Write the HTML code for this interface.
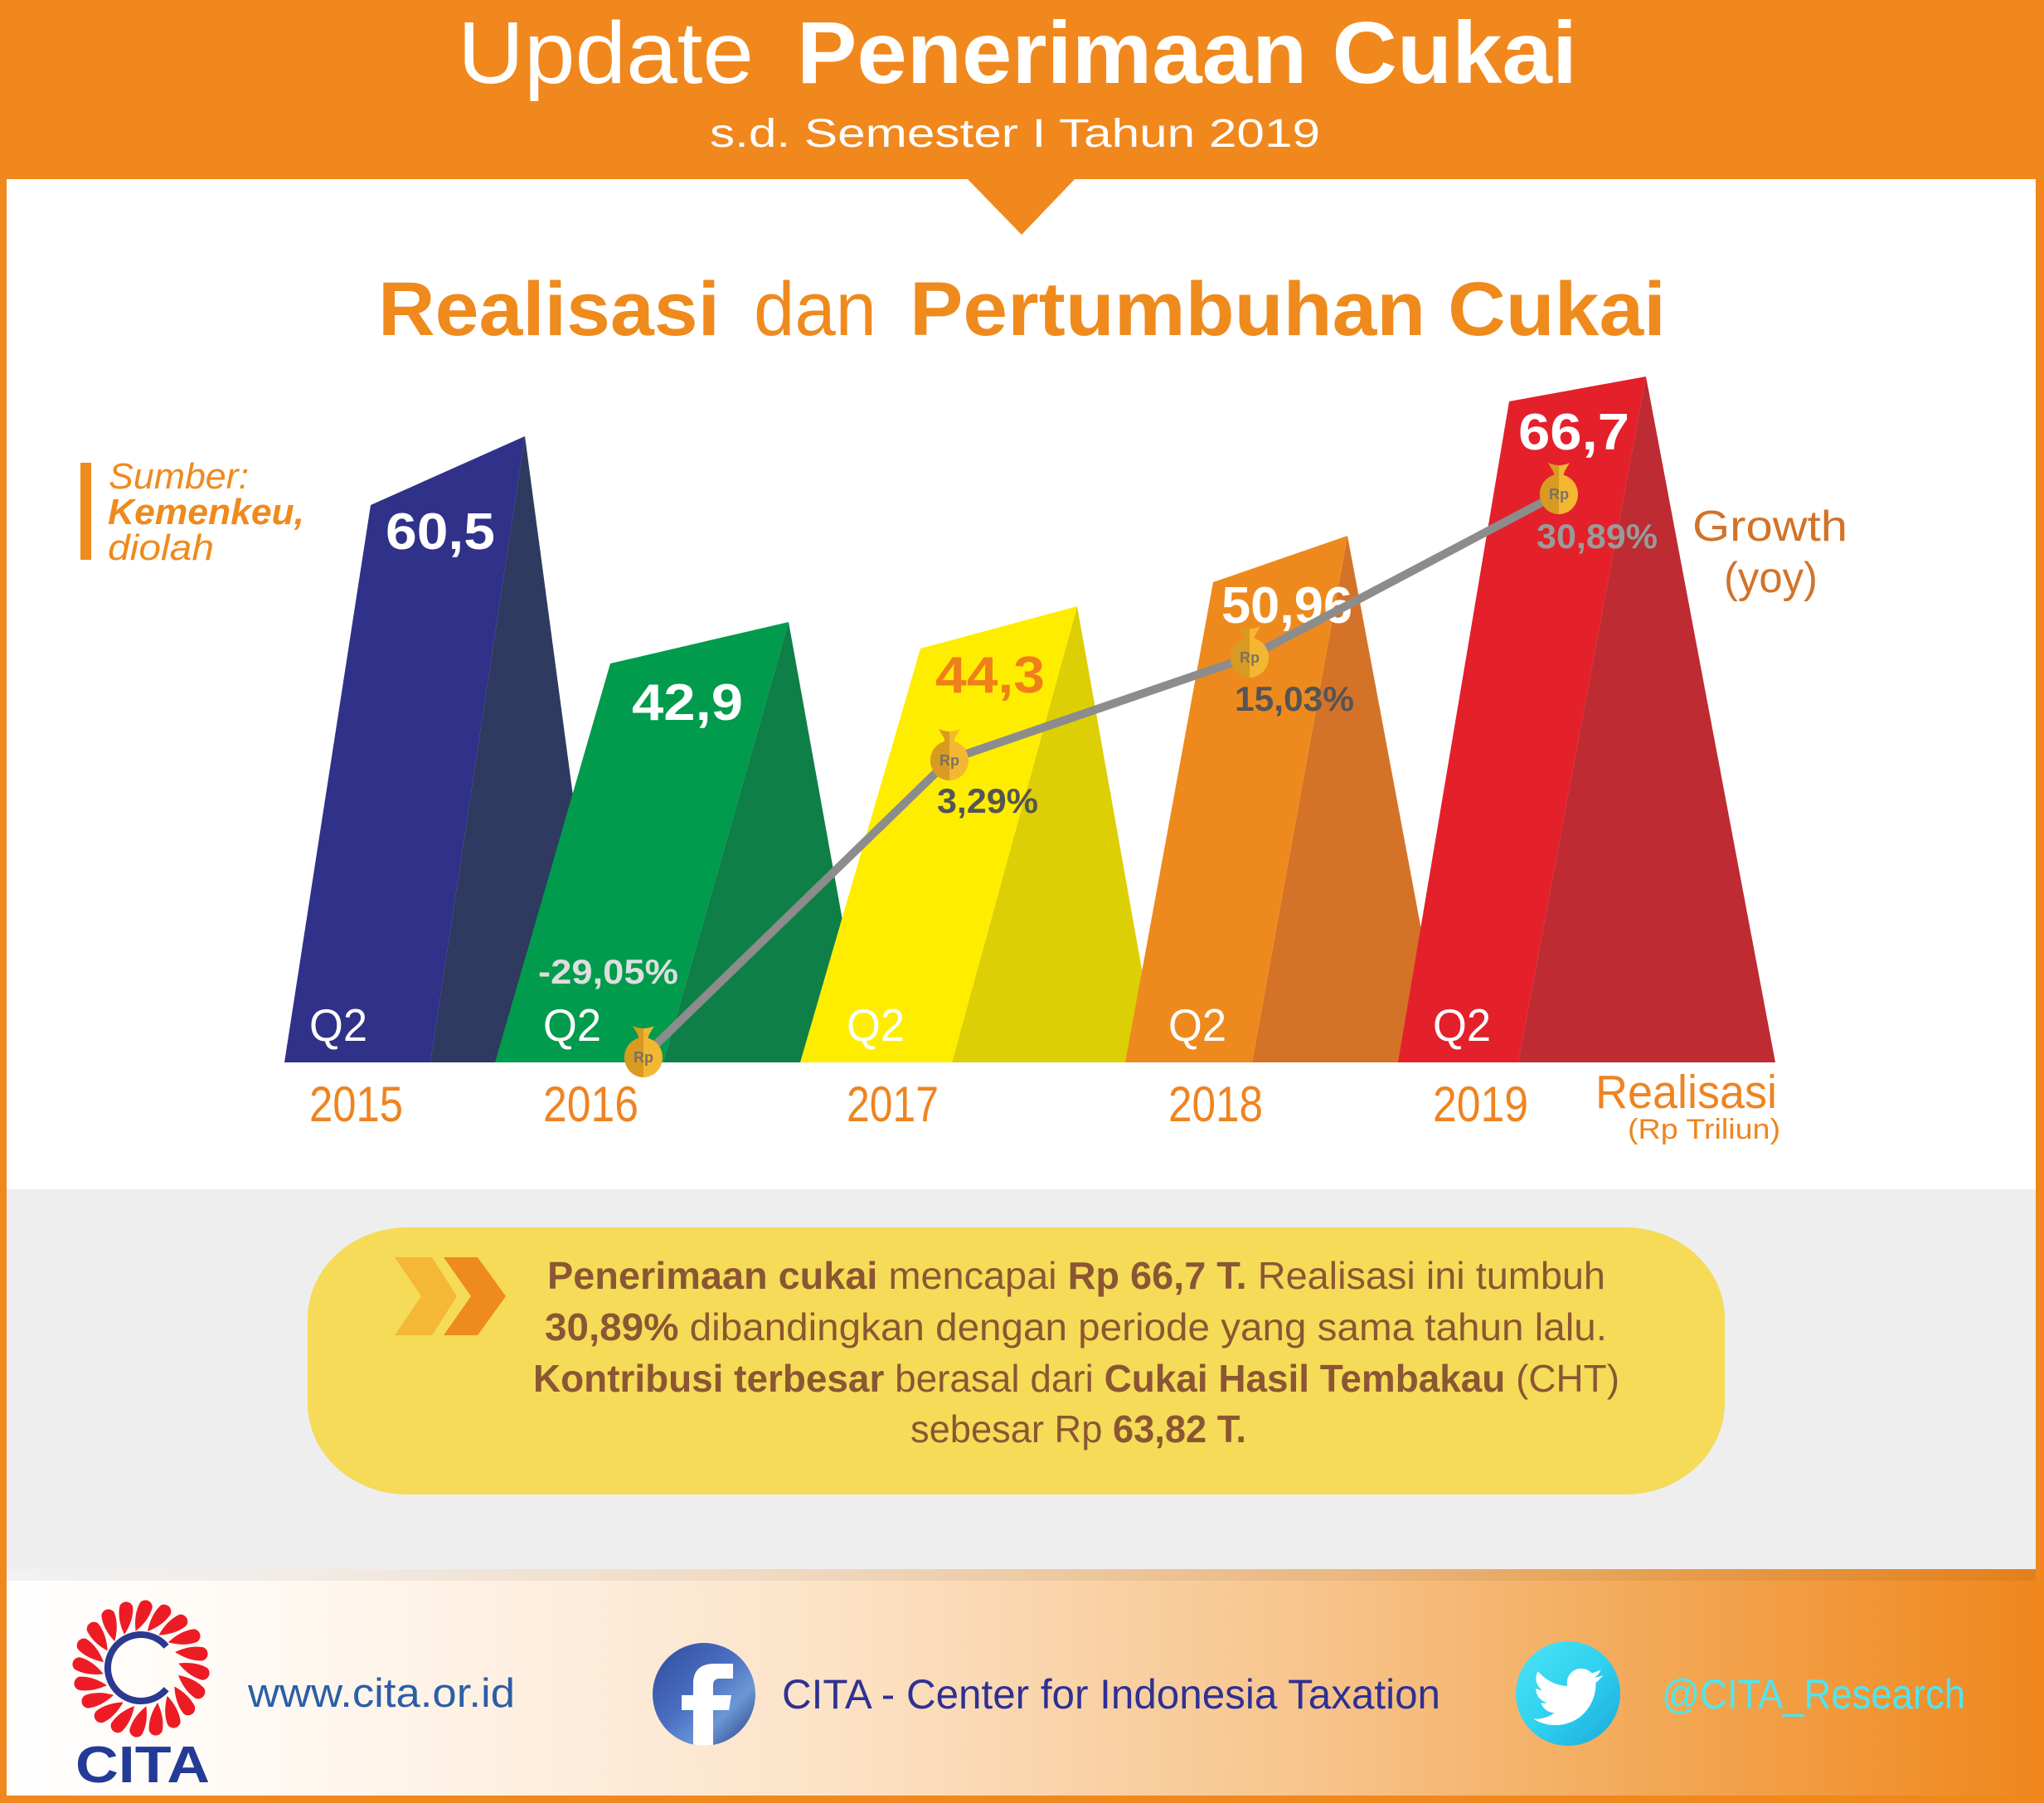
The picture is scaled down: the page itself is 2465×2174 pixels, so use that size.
<!DOCTYPE html>
<html><head><meta charset="utf-8"><style>html,body{margin:0;padding:0;background:#fff}svg{display:block}</style></head>
<body>
<svg xmlns="http://www.w3.org/2000/svg" width="2465" height="2174" viewBox="0 0 2465 2174" font-family="'Liberation Sans', sans-serif">
<defs>
 <linearGradient id="foot" x1="0" y1="0" x2="1" y2="0">
  <stop offset="0" stop-color="#FFFFFF"/>
  <stop offset="0.12" stop-color="#FFFAF5"/>
  <stop offset="0.4" stop-color="#FCE3C8"/>
  <stop offset="0.5" stop-color="#FAD6AE"/>
  <stop offset="0.65" stop-color="#F7C38A"/>
  <stop offset="0.81" stop-color="#F3A856"/>
  <stop offset="1" stop-color="#F0861C"/>
 </linearGradient>
 <linearGradient id="fbg" x1="0" y1="0" x2="1" y2="1">
  <stop offset="0" stop-color="#2F4C9C"/>
  <stop offset="0.45" stop-color="#4A6EC2"/>
  <stop offset="0.7" stop-color="#6B98D6"/>
  <stop offset="1" stop-color="#25377A"/>
 </linearGradient>
 <linearGradient id="twg" x1="0" y1="0" x2="1" y2="1">
  <stop offset="0" stop-color="#4FE3F5"/>
  <stop offset="0.5" stop-color="#2FD2F0"/>
  <stop offset="1" stop-color="#1CA8DC"/>
 </linearGradient>
 <clipPath id="fbc"><circle cx="849" cy="2043" r="62"/></clipPath>
 <clipPath id="lh"><rect x="-40" y="-50" width="40" height="100"/></clipPath>
 <g id="bag">
  <path d="M-13,-37 Q0,-31 13,-37 L7,-27 L5,-21 L-5,-21 L-7,-27 Z" fill="#F3B731"/>
  <ellipse cx="0" cy="1" rx="23" ry="24" fill="#F3B731"/>
  <g clip-path="url(#lh)">
   <path d="M-13,-37 Q0,-31 13,-37 L7,-27 L5,-21 L-5,-21 L-7,-27 Z" fill="#D99A22"/>
   <ellipse cx="0" cy="1" rx="23" ry="24" fill="#D99A22"/>
  </g>
 </g>
 <path id="petal" d="M44,0 Q62,-10 78,-8 A8.5,8.5 0 0 1 78,8 Q62,10 44,0 Z"/>
</defs>

<!-- base -->
<rect x="0" y="0" width="2465" height="2174" fill="#FFFFFF"/>
<!-- header -->
<rect x="0" y="0" width="2465" height="216" fill="#F0881D"/>
<polygon points="1165,214 1298,214 1232,283" fill="#F0881D"/>
<text x="552" y="100" font-size="106" fill="#FFFFFF" textLength="357" lengthAdjust="spacingAndGlyphs">Update</text>
<text x="961" y="100" font-size="106" font-weight="bold" fill="#FFFFFF" textLength="941" lengthAdjust="spacingAndGlyphs">Penerimaan Cukai</text>
<text x="856" y="177" font-size="48" fill="#FFFFFF" textLength="736" lengthAdjust="spacingAndGlyphs">s.d. Semester I Tahun 2019</text>

<!-- chart title -->
<text x="456" y="404" font-size="92" font-weight="bold" fill="#EF8A1D" textLength="412" lengthAdjust="spacingAndGlyphs">Realisasi</text>
<text x="909" y="404" font-size="92" fill="#EF8A1D" textLength="148" lengthAdjust="spacingAndGlyphs">dan</text>
<text x="1097" y="404" font-size="92" font-weight="bold" fill="#EF8A1D" textLength="912" lengthAdjust="spacingAndGlyphs">Pertumbuhan Cukai</text>

<!-- sumber -->
<rect x="97" y="558" width="13" height="117" fill="#EF8A1D"/>
<text x="131" y="589" font-size="44" font-style="italic" fill="#EF8A1D" textLength="169" lengthAdjust="spacingAndGlyphs">Sumber:</text>
<text x="130" y="632" font-size="44" font-style="italic" font-weight="bold" fill="#EF8A1D" textLength="237" lengthAdjust="spacingAndGlyphs">Kemenkeu,</text>
<text x="130" y="675" font-size="44" font-style="italic" fill="#EF8A1D" textLength="128" lengthAdjust="spacingAndGlyphs">diolah</text>

<!-- bars -->
<polygon points="633,526 734,1281 519,1281" fill="#2E3A5F"/>
<polygon points="343,1281 447,609 633,526 519,1281" fill="#303189"/>
<polygon points="951,750 1047,1281 800,1281" fill="#0E7F47"/>
<polygon points="597,1281 736,800 951,750 800,1281" fill="#009B4C"/>
<polygon points="1299,731 1397,1281 1148,1281" fill="#DCCF05"/>
<polygon points="965,1281 1110,782 1299,731 1148,1281" fill="#FFED00"/>
<polygon points="1625,646 1744,1281 1510,1281" fill="#D47328"/>
<polygon points="1357,1281 1463,702 1625,646 1510,1281" fill="#EE8A1D"/>
<polygon points="1985,454 2141,1281 1831,1281" fill="#BE2B33"/>
<polygon points="1686,1281 1820,484 1985,454 1831,1281" fill="#E4202B"/>

<!-- value labels -->
<text x="465" y="662" font-size="62" font-weight="bold" fill="#FFFFFF" textLength="132" lengthAdjust="spacingAndGlyphs">60,5</text>
<text x="762" y="868" font-size="62" font-weight="bold" fill="#FFFFFF" textLength="134" lengthAdjust="spacingAndGlyphs">42,9</text>
<text x="1128" y="835" font-size="62" font-weight="bold" fill="#EF7F1A" textLength="132" lengthAdjust="spacingAndGlyphs">44,3</text>
<text x="1473" y="751" font-size="62" font-weight="bold" fill="#FFFFFF" textLength="158" lengthAdjust="spacingAndGlyphs">50,96</text>
<text x="1831" y="542" font-size="62" font-weight="bold" fill="#FFFFFF" textLength="134" lengthAdjust="spacingAndGlyphs">66,7</text>

<!-- Q2 labels -->
<text x="373" y="1255" font-size="55" fill="#FFFFFF" textLength="70" lengthAdjust="spacingAndGlyphs">Q2</text>
<text x="655" y="1255" font-size="55" fill="#FFFFFF" textLength="70" lengthAdjust="spacingAndGlyphs">Q2</text>
<text x="1021" y="1255" font-size="55" fill="#FFFFFF" textLength="70" lengthAdjust="spacingAndGlyphs">Q2</text>
<text x="1409" y="1255" font-size="55" fill="#FFFFFF" textLength="70" lengthAdjust="spacingAndGlyphs">Q2</text>
<text x="1728" y="1255" font-size="55" fill="#FFFFFF" textLength="70" lengthAdjust="spacingAndGlyphs">Q2</text>

<!-- growth line -->
<polyline points="776,1274 1145,916 1507,792 1880,595" fill="none" stroke="#8C8C8C" stroke-width="10" stroke-linejoin="round"/>
<use href="#bag" x="776" y="1274"/>
<use href="#bag" x="1145" y="916"/>
<use href="#bag" x="1507" y="792"/>
<use href="#bag" x="1880" y="595"/>
<text x="776" y="1281" font-size="18" font-weight="bold" fill="#7C7163" text-anchor="middle">Rp</text>
<text x="1145" y="923" font-size="18" font-weight="bold" fill="#7C7163" text-anchor="middle">Rp</text>
<text x="1507" y="799" font-size="18" font-weight="bold" fill="#7C7163" text-anchor="middle">Rp</text>
<text x="1880" y="602" font-size="18" font-weight="bold" fill="#7C7163" text-anchor="middle">Rp</text>

<!-- growth labels -->
<text x="649" y="1186" font-size="42" font-weight="bold" fill="#DEDEDE" textLength="169" lengthAdjust="spacingAndGlyphs">-29,05%</text>
<text x="1130" y="980" font-size="42" font-weight="bold" fill="#555555" textLength="122" lengthAdjust="spacingAndGlyphs">3,29%</text>
<text x="1489" y="857" font-size="42" font-weight="bold" fill="#555555" textLength="144" lengthAdjust="spacingAndGlyphs">15,03%</text>
<text x="1853" y="661" font-size="42" font-weight="bold" fill="#9A9A9A" textLength="146" lengthAdjust="spacingAndGlyphs">30,89%</text>

<text x="2041" y="652" font-size="52" fill="#D2732A" textLength="187" lengthAdjust="spacingAndGlyphs">Growth</text>
<text x="2079" y="714" font-size="52" fill="#D2732A" textLength="113" lengthAdjust="spacingAndGlyphs">(yoy)</text>

<!-- years -->
<text x="373" y="1352" font-size="60" fill="#EE8421" textLength="113" lengthAdjust="spacingAndGlyphs">2015</text>
<text x="655" y="1352" font-size="60" fill="#EE8421" textLength="115" lengthAdjust="spacingAndGlyphs">2016</text>
<text x="1021" y="1352" font-size="60" fill="#EE8421" textLength="111" lengthAdjust="spacingAndGlyphs">2017</text>
<text x="1409" y="1352" font-size="60" fill="#EE8421" textLength="114" lengthAdjust="spacingAndGlyphs">2018</text>
<text x="1728" y="1352" font-size="60" fill="#EE8421" textLength="115" lengthAdjust="spacingAndGlyphs">2019</text>
<text x="1924" y="1336" font-size="57" fill="#EE8421" textLength="219" lengthAdjust="spacingAndGlyphs">Realisasi</text>
<text x="1963" y="1373" font-size="34" fill="#EE8421" textLength="184" lengthAdjust="spacingAndGlyphs">(Rp Triliun)</text>

<!-- gray section -->
<rect x="8" y="1434" width="2447" height="458" fill="#EEEEEE"/>
<rect x="371" y="1480" width="1709" height="322" rx="120" ry="110" fill="#F5DB58"/>
<polygon points="476,1516 521,1516 551,1563 521,1610 476,1610 508,1563" fill="#F4B736"/>
<polygon points="535,1516 576,1516 610,1563 576,1610 535,1610 568,1563" fill="#EF8A1D"/>

<text x="660" y="1554" font-size="46" fill="#8B5633" textLength="1276" lengthAdjust="spacingAndGlyphs"><tspan font-weight="bold">Penerimaan cukai</tspan> mencapai <tspan font-weight="bold">Rp 66,7 T.</tspan>  Realisasi ini tumbuh</text>
<text x="657" y="1616" font-size="46" fill="#8B5633" textLength="1281" lengthAdjust="spacingAndGlyphs"><tspan font-weight="bold">30,89%</tspan> dibandingkan dengan periode yang sama tahun lalu.</text>
<text x="643" y="1678" font-size="46" fill="#8B5633" textLength="1310" lengthAdjust="spacingAndGlyphs"><tspan font-weight="bold">Kontribusi terbesar</tspan> berasal dari <tspan font-weight="bold">Cukai Hasil Tembakau</tspan> (CHT)</text>
<text x="1098" y="1739" font-size="46" fill="#8B5633" textLength="405" lengthAdjust="spacingAndGlyphs">sebesar Rp <tspan font-weight="bold">63,82 T.</tspan></text>

<!-- footer -->
<rect x="0" y="1892" width="2465" height="273" fill="url(#foot)"/>
<rect x="0" y="1892" width="2465" height="14" fill="#000000" opacity="0.05"/>

<!-- CITA logo -->
<g fill="#ED1C24" transform="translate(170,2012)">
 <use href="#petal" transform="rotate(0) rotate(22 61 0)"/>
 <use href="#petal" transform="rotate(18) rotate(22 61 0)"/>
 <use href="#petal" transform="rotate(36) rotate(22 61 0)"/>
 <use href="#petal" transform="rotate(54) rotate(22 61 0)"/>
 <use href="#petal" transform="rotate(72) rotate(22 61 0)"/>
 <use href="#petal" transform="rotate(90) rotate(22 61 0)"/>
 <use href="#petal" transform="rotate(108) rotate(22 61 0)"/>
 <use href="#petal" transform="rotate(126) rotate(22 61 0)"/>
 <use href="#petal" transform="rotate(144) rotate(22 61 0)"/>
 <use href="#petal" transform="rotate(162) rotate(22 61 0)"/>
 <use href="#petal" transform="rotate(180) rotate(22 61 0)"/>
 <use href="#petal" transform="rotate(198) rotate(22 61 0)"/>
 <use href="#petal" transform="rotate(216) rotate(22 61 0)"/>
 <use href="#petal" transform="rotate(234) rotate(22 61 0)"/>
 <use href="#petal" transform="rotate(252) rotate(22 61 0)"/>
 <use href="#petal" transform="rotate(270) rotate(22 61 0)"/>
 <use href="#petal" transform="rotate(288) rotate(22 61 0)"/>
 <use href="#petal" transform="rotate(306) rotate(22 61 0)"/>
 <use href="#petal" transform="rotate(324) rotate(22 61 0)"/>
 <use href="#petal" transform="rotate(342) rotate(22 61 0)"/>
</g>
<path d="M200.6,2036.7 A40,40 0 1 1 200.6,1985.3" fill="none" stroke="#2B3990" stroke-width="8"/>
<text x="91" y="2149" font-size="62" font-weight="bold" fill="#233A96" textLength="162" lengthAdjust="spacingAndGlyphs">CITA</text>
<text x="299" y="2058" font-size="49" fill="#2C5EA8" textLength="322" lengthAdjust="spacingAndGlyphs">www.cita.or.id</text>

<!-- facebook -->
<circle cx="849" cy="2043" r="62" fill="url(#fbg)"/>
<path clip-path="url(#fbc)" d="M836,2110 L836,2062 L822,2062 L822,2044 L836,2044 L836,2030 Q836,2006 862,2006 L884,2006 L884,2024 L868,2024 Q860,2024 860,2032 L860,2044 L882,2044 L879,2062 L860,2062 L860,2110 Z" fill="#FFFFFF"/>
<text x="943" y="2060" font-size="50" fill="#2E3192" textLength="794" lengthAdjust="spacingAndGlyphs">CITA - Center for Indonesia Taxation</text>

<!-- twitter -->
<circle cx="1891" cy="2042" r="63" fill="url(#twg)"/>
<path transform="translate(1849,2004) scale(3.5)" fill="#FFFFFF" d="M23.954 4.569c-.885.389-1.83.654-2.825.775 1.014-.611 1.794-1.574 2.163-2.723-.951.555-2.005.959-3.127 1.184-.896-.959-2.173-1.559-3.591-1.559-2.717 0-4.92 2.203-4.920 4.917 0 .39.045.765.127 1.124C7.691 8.094 4.066 6.13 1.64 3.161c-.427.722-.666 1.561-.666 2.475 0 1.71.87 3.213 2.188 4.096-.807-.026-1.566-.248-2.228-.616v.061c0 2.385 1.693 4.374 3.946 4.827-.413.111-.849.171-1.296.171-.314 0-.615-.03-.916-.086.631 1.953 2.445 3.377 4.604 3.417-1.68 1.319-3.809 2.105-6.102 2.105-.39 0-.779-.023-1.17-.067 2.189 1.394 4.768 2.209 7.557 2.209 9.054 0 13.999-7.496 13.999-13.986 0-.209 0-.42-.015-.63.961-.689 1.8-1.56 2.46-2.548l-.047-.02z"/>
<text x="2004" y="2060" font-size="50" fill="#4DE6F2" textLength="366" lengthAdjust="spacingAndGlyphs">@CITA_Research</text>

<!-- borders -->
<rect x="0" y="0" width="8" height="2174" fill="#F0881D"/>
<rect x="2455" y="0" width="10" height="2174" fill="#F0881D"/>
<rect x="0" y="2165" width="2465" height="9" fill="#F0881D"/>
</svg>
</body></html>
